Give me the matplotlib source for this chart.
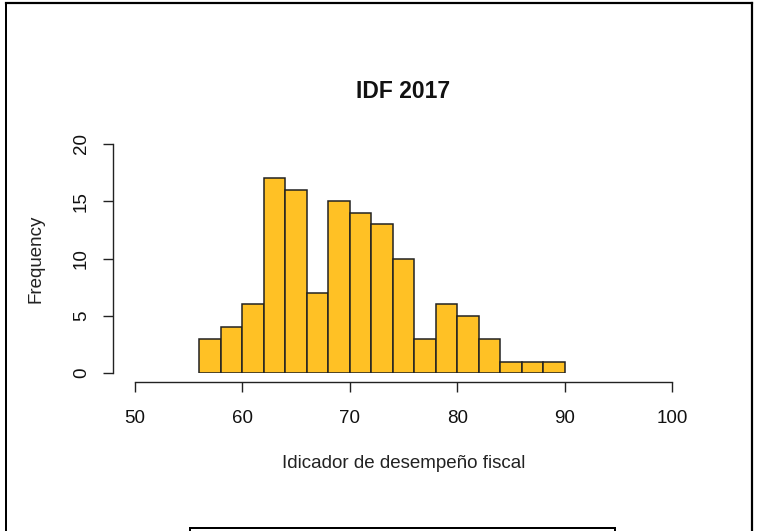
import numpy as np
import matplotlib.pyplot as plt
from matplotlib.lines import Line2D

# histogram of IDF 2017 (bin edges every 2 points)
bin_edges = np.arange(56, 92, 2)
counts = [3, 4, 6, 17, 16, 7, 15, 14, 13, 10, 3, 6, 5, 3, 1, 1, 1]
x_ticks = [50, 60, 70, 80, 90, 100]
y_ticks = [0, 5, 10, 15, 20]

W, H = 760, 531
plt.rcParams['font.family'] = ['Liberation Sans', 'DejaVu Sans']

fig = plt.figure(figsize=(W / 100, H / 100), dpi=100)
# plot region in pixels: x 50..100 -> 135..672, y 0..20 -> 373..144
ax = fig.add_axes([135 / W, 1 - 373 / H, (672 - 135) / W, (373 - 144) / H])

ax.bar(bin_edges[:-1], counts, width=2, align='edge',
       color='#FFC125', edgecolor='#222222', linewidth=1.1)

ax.set_xlim(50, 100)
ax.set_ylim(0, 20)
ax.set_xticks(x_ticks)
ax.set_yticks(y_ticks)

for s in ['top', 'right']:
    ax.spines[s].set_visible(False)
ax.spines['left'].set_position(('outward', 22 * 0.72))
ax.spines['bottom'].set_position(('outward', 9 * 0.72))
ax.spines['left'].set_bounds(0, 20)
ax.spines['bottom'].set_bounds(50, 100)
for s in ['left', 'bottom']:
    ax.spines[s].set_color('#222222')
    ax.spines[s].set_linewidth(1.0)

ax.tick_params(axis='both', length=7.5, width=1.0, color='#222222',
               labelsize=13.5, labelcolor='#111111')
ax.tick_params(axis='x', pad=13)
ax.tick_params(axis='y', pad=9)
for lab in ax.get_yticklabels():
    lab.set_rotation(90)
    lab.set_va('center')

ax.set_title('IDF 2017', fontsize=16.5, fontweight='bold', y=1 + 44 / 229,
             va='center', color='#111111')
ax.set_xlabel('Idicador de desempeño fiscal', fontsize=13.5, va='center',
              color='#222222')
ax.xaxis.set_label_coords(0.5, -(463 - 373) / 229)
ax.set_ylabel('Frequency', fontsize=13.5, va='center', color='#222222')
ax.yaxis.set_label_coords((36 - 135) / 537, 0.5)


def px(x, y):
    return x / W, 1 - y / H


# outer frame (cropped page border)
for (x0, y0), (x1, y1), lw in [((5.5, 2.5), (751.5, 2.5), 2.2),
                               ((5.5, 2.5), (5.5, 531), 2.0),
                               ((751.5, 2.5), (751.5, 531), 2.2),
                               ((190, 527.5), (615, 527.5), 2.0),
                               ((190, 527.5), (190, 531), 2.0),
                               ((615, 527.5), (615, 531), 2.0)]:
    a, b = px(x0, y0)
    c, d = px(x1, y1)
    fig.add_artist(Line2D([a, c], [b, d], transform=fig.transFigure,
                          color='black', linewidth=lw * 0.72))

fig.savefig('out.png', dpi=100)
